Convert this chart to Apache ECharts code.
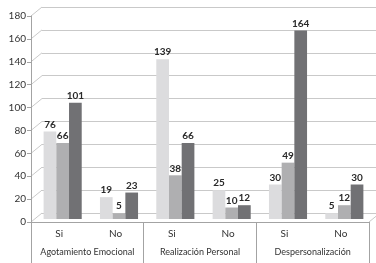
<!DOCTYPE html>
<html>
<head>
<meta charset="utf-8">
<script src="https://cdn.jsdelivr.net/npm/echarts@6/dist/echarts.min.js"></script>
<style>
html,body{margin:0;padding:0;background:#fff;}
#c{width:376px;height:263px;}
</style>
</head>
<body>
<div id="c"></div>
<script>
const categories = ['Si', 'No', 'Si', 'No', 'Si', 'No'];
const groups = ['Agotamiento Emocional', 'Realización Personal', 'Despersonalización'];
const seriesLight = [76, 19, 139, 25, 30, 5];
const seriesMid = [66, 5, 38, 10, 49, 12];
const seriesDark = [101, 23, 66, 12, 164, 30];
const yTicks = [0, 20, 40, 60, 80, 100, 120, 140, 160, 180];

const FONT = 'Lato';
const AXIS_COLOR = '#a3a3a3';
const GRID_COLOR = '#c9c9c9';
const TEXT_COLOR = '#333333';

const chart = echarts.init(document.getElementById('c'), null, {renderer: 'canvas'});

const yRange = {type: 'value', min: yTicks[0], max: yTicks[yTicks.length - 1], interval: 20};

function barSeries(name, data, color) {
  return {
    name: name, type: 'bar', data: data,
    xAxisIndex: 3, yAxisIndex: 2,
    barWidth: 12.7, barGap: '0%',
    itemStyle: {color: color},
    silent: true,
    label: {show: true, position: 'top', distance: 2, fontFamily: FONT, fontSize: 10, fontWeight: 'bold', color: '#2a2a2a'}
  };
}

chart.setOption({
  animation: false,
  grid: [
    {left: 31, top: 16, width: 338, height: 206},
    {left: 42, top: 7, right: 0, height: 206},
    {left: 34.5, top: 12, width: 338, height: 207}
  ],
  xAxis: [
    {gridIndex: 0, type: 'category', data: categories, position: 'bottom',
      axisLine: {lineStyle: {color: AXIS_COLOR}},
      axisTick: {interval: 0, length: 20, lineStyle: {color: AXIS_COLOR}},
      axisLabel: {interval: 0, margin: 7, fontFamily: FONT, fontSize: 10, color: TEXT_COLOR}},
    {gridIndex: 0, type: 'category', data: groups, position: 'bottom',
      axisLine: {show: false},
      axisTick: {show: true, interval: 0, length: 41, lineStyle: {color: AXIS_COLOR}},
      axisLabel: {interval: 0, hideOverlap: false, margin: 26, fontFamily: FONT, fontSize: 9, color: TEXT_COLOR}},
    {gridIndex: 1, type: 'value', show: false},
    {gridIndex: 2, type: 'category', data: categories, show: false}
  ],
  yAxis: [
    Object.assign({gridIndex: 0,
      axisLine: {show: true, lineStyle: {color: AXIS_COLOR}},
      axisTick: {show: true, length: 4, lineStyle: {color: AXIS_COLOR}},
      axisLabel: {margin: 5, fontFamily: FONT, fontSize: 10, color: TEXT_COLOR},
      splitLine: {show: false}}, yRange),
    Object.assign({gridIndex: 1,
      axisLine: {show: false}, axisTick: {show: false}, axisLabel: {show: false},
      splitLine: {show: true, lineStyle: {color: GRID_COLOR, width: 1}}}, yRange),
    Object.assign({gridIndex: 2, show: false, splitLine: {show: false}}, yRange)
  ],
  series: [
    barSeries('A', seriesLight, '#dcdcde'),
    barSeries('B', seriesMid, '#afafb1'),
    barSeries('C', seriesDark, '#717174')
  ]
});

// perspective connectors between front axis and back wall, from the axes' scales
const frontRect = chart.getModel().getComponent('grid', 0).coordinateSystem.getRect();
const backRect = chart.getModel().getComponent('grid', 1).coordinateSystem.getRect();
const elements = [];
yTicks.forEach(function (v) {
  const yf = chart.convertToPixel({yAxisIndex: 0}, v);
  const yb = chart.convertToPixel({yAxisIndex: 1}, v);
  elements.push({type: 'line', silent: true,
    shape: {x1: frontRect.x, y1: yf, x2: backRect.x, y2: yb},
    style: {stroke: GRID_COLOR, lineWidth: 1}});
});
const yf0 = chart.convertToPixel({yAxisIndex: 0}, 0);
const yb0 = chart.convertToPixel({yAxisIndex: 1}, 0);
elements.push({type: 'line', silent: true,
  shape: {x1: frontRect.x + frontRect.width, y1: yf0,
          x2: frontRect.x + frontRect.width + (backRect.x - frontRect.x), y2: yb0},
  style: {stroke: GRID_COLOR, lineWidth: 1}});
chart.setOption({graphic: {elements: elements}});
</script>
</body>
</html>
